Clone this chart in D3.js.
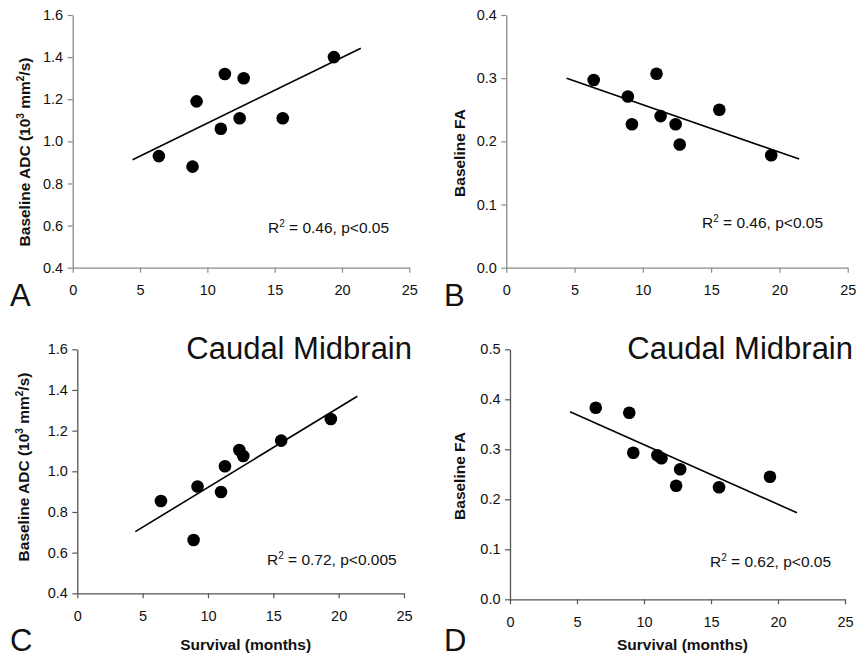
<!DOCTYPE html>
<html lang="en">
<head>
  <meta charset="utf-8">
  <title>Baseline ADC / FA vs survival</title>
  <style>
    body { margin:0; background:#fff; }
    svg  { display:block; }
    text { font-family: "Liberation Sans", Arial, sans-serif; fill:#111; }
  </style>
</head>
<body>
<script src="https://d3js.org/d3.v7.min.js"></script>
<script>

// survival (months) of the nine patients, same for all four panels
const survival = [6.4, 8.9, 9.2, 11.0, 11.3, 12.4, 12.7, 15.6, 19.4];

// baseline values
const adcA = [0.93, 0.88, 1.19, 1.06, 1.32, 1.11, 1.30, 1.11, 1.40];
const faB  = [0.297, 0.271, 0.227, 0.307, 0.240, 0.227, 0.195, 0.250, 0.178];
const adcC = [0.854, 0.662, 0.925, 0.898, 1.025, 1.105, 1.075, 1.151, 1.257];
const faD  = [0.383, 0.373, 0.293, 0.288, 0.282, 0.227, 0.260, 0.224, 0.245];

// regression line endpoints [x, y]
const fitA = [[4.45, 0.913], [21.4, 1.442]];
const fitB = [[4.42, 0.300], [21.45, 0.172]];
const fitC = [[4.44, 0.703], [21.43, 1.369]];
const fitD = [[4.48, 0.375], [21.42, 0.173]];

// ticks
const xTicks   = [0, 5, 10, 15, 20, 25];
const adcTicks = [0.4, 0.6, 0.8, 1.0, 1.2, 1.4, 1.6];
const faTicksB = [0.0, 0.1, 0.2, 0.3, 0.4];
const faTicksD = [0.0, 0.1, 0.2, 0.3, 0.4, 0.5];

// stats text
const r2Labels = ["0.46", "0.46", "0.72", "0.62"];
const pLabels  = ["p<0.05", "p<0.05", "p<0.005", "p<0.05"];
const letters  = ["A", "B", "C", "D"];

const W = 859, H = 657;
const svg = d3.select("body").append("svg")
  .attr("width", W).attr("height", H);

// plot boxes in pixels
const panels = [
  { ys: adcA, fit: fitA, yTicks: adcTicks, adc: true,  x0: 72.7, x1: 409.3, yTop: 15,    yBot: 267.7,
    axis: "#8a8a8a", titleX: 25,  titleY: 152, r2: [268, 233], letter: [10, 306], caudal: false, survival: false },
  { ys: faB,  fit: fitB, yTicks: faTicksB, adc: false, x0: 506.3, x1: 847.7, yTop: 15,  yBot: 267.7,
    axis: "#8a8a8a", titleX: 460, titleY: 153, r2: [702, 228], letter: [444, 306], caudal: false, survival: false },
  { ys: adcC, fit: fitC, yTicks: adcTicks, adc: true,  x0: 77.3, x1: 404,   yTop: 349.3, yBot: 593.3,
    axis: "#555", titleX: 24,  titleY: 467, r2: [267, 565], letter: [10, 650.5], caudal: true, survival: true },
  { ys: faD,  fit: fitD, yTicks: faTicksD, adc: false, x0: 510,  x1: 845,   yTop: 349.3, yBot: 599.3,
    axis: "#555", titleX: 460, titleY: 476, r2: [710, 567], letter: [444, 650.5], caudal: true, survival: true }
];

panels.forEach((p, i) => {
  const x = d3.scaleLinear().domain([0, 25]).range([p.x0, p.x1]);
  const yMax = p.yTicks[p.yTicks.length - 1], yMin = p.yTicks[0];
  const y = d3.scaleLinear().domain([yMin, yMax]).range([p.yBot, p.yTop]);
  const g = svg.append("g");

  // axes
  const xAxis = g.append("g")
    .attr("transform", `translate(0,${p.yBot})`)
    .call(d3.axisBottom(x).tickValues(xTicks).tickSize(5).tickSizeOuter(0).tickPadding(12)
      .tickFormat(d3.format("d")));
  const yAxis = g.append("g")
    .attr("transform", `translate(${p.x0},0)`)
    .call(d3.axisLeft(y).tickValues(p.yTicks).tickSize(5).tickSizeOuter(0).tickPadding(4.5)
      .tickFormat(d3.format(".1f")));
  [xAxis, yAxis].forEach(a => {
    a.select(".domain").attr("stroke", p.axis).attr("stroke-width", 1.3);
    a.selectAll(".tick line").attr("stroke", p.axis).attr("stroke-width", 1.2);
    a.selectAll(".tick text")
      .attr("fill", "#222")
      .style("font-size", "14.5px")
      .style("font-family", "'Liberation Sans', Arial, sans-serif");
  });

  // trend line
  g.append("path")
    .datum(p.fit)
    .attr("d", d3.line().x(d => x(d[0])).y(d => y(d[1])))
    .attr("fill", "none")
    .attr("stroke", "#000")
    .attr("stroke-width", 1.6);

  // points
  g.append("g")
    .selectAll("circle")
    .data(survival.map((s, k) => [s, p.ys[k]]))
    .join("circle")
      .attr("cx", d => x(d[0]))
      .attr("cy", d => y(d[1]))
      .attr("r", 6.3)
      .attr("fill", "#000");

  // y axis title
  const t = g.append("text")
    .attr("transform", `translate(${p.titleX},${p.titleY}) rotate(-90)`)
    .attr("text-anchor", "middle")
    .attr("dy", "0.35em")
    .style("font-size", "15.5px")
    .style("font-weight", "bold");
  if (p.adc) {
    t.append("tspan").text("Baseline ADC (10");
    t.append("tspan").attr("dy", -6).style("font-size", "10px").text("3");
    t.append("tspan").attr("dy", 6).text(" mm");
    t.append("tspan").attr("dy", -6).style("font-size", "10px").text("2");
    t.append("tspan").attr("dy", 6).text("/s)");
  } else {
    t.text("Baseline FA");
  }

  // R² label
  const r = g.append("text")
    .attr("x", p.r2[0]).attr("y", p.r2[1])
    .style("font-size", "15.5px");
  r.append("tspan").text("R");
  r.append("tspan").attr("dy", -6).style("font-size", "10px").text("2");
  r.append("tspan").attr("dy", 6).text(` = ${r2Labels[i]}, ${pLabels[i]}`);

  // panel letter
  g.append("text")
    .attr("x", p.letter[0]).attr("y", p.letter[1])
    .style("font-size", "31px")
    .text(letters[i]);

  if (p.caudal) {
    g.append("text")
      .attr("x", p.x1 + 8).attr("y", 359)
      .attr("text-anchor", "end")
      .style("font-size", "31px")
      .text("Caudal Midbrain");
  }
  if (p.survival) {
    g.append("text")
      .attr("x", (p.x0 + p.x1) / 2 + 5).attr("y", 650)
      .attr("text-anchor", "middle")
      .style("font-size", "15.5px")
      .style("font-weight", "bold")
      .text("Survival (months)");
  }
});
</script>
</body>
</html>
